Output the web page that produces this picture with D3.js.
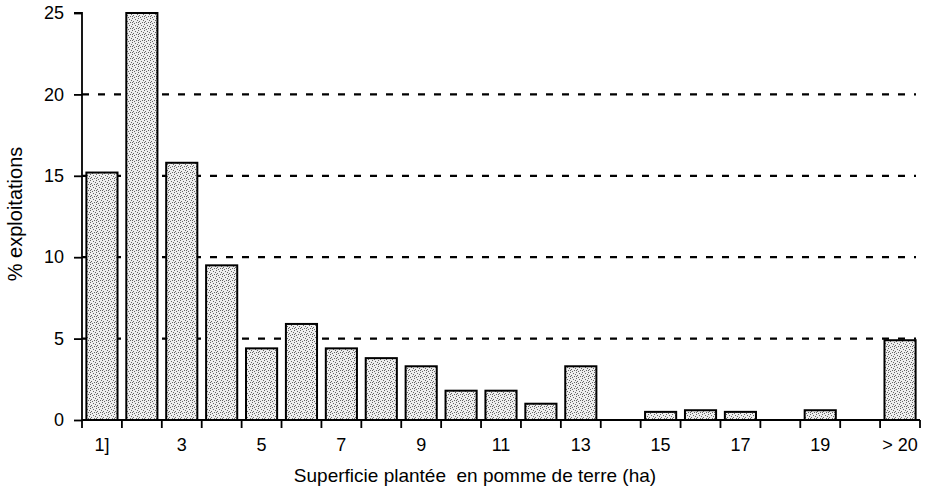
<!DOCTYPE html>
<html><head><meta charset="utf-8">
<script src="https://cdn.jsdelivr.net/npm/d3@7/dist/d3.min.js"></script>
<style>body{margin:0;background:#fff}svg{display:block}text{font-family:"Liberation Sans",Arial,sans-serif;fill:#000}</style>
</head><body><svg id="c" width="934" height="488"></svg>
<script>
const categories = ["1]","2","3","4","5","6","7","8","9","10","11","12","13","14","15","16","17","18","19","20",">20"];
const values = [15.2, 25, 15.8, 9.5, 4.4, 5.9, 4.4, 3.8, 3.3, 1.8, 1.8, 1.0, 3.3, 0, 0.5, 0.6, 0.5, 0, 0.6, 0, 4.9];
const xTickLabels = ["1]","3","5","7","9","11","13","15","17","19",">20"];
const xTickDisplay = {">20":"> 20"};
const yTicks = [0,5,10,15,20,25];
const gridValues = [5,10,15,20];
const xTitle = "Superficie plantée  en pomme de terre (ha)";
const yTitle = "% exploitations";

const svg = d3.select("#c");
const defs = svg.append("defs");
const pat = defs.append("pattern").attr("id","stip").attr("patternUnits","userSpaceOnUse").attr("width",6).attr("height",6);
pat.append("rect").attr("width",6).attr("height",6).attr("fill","#eeeeee");
[[0,0],[3,1],[1,3],[4,4],[2,5],[5,2],[0,4]].forEach(p=>pat.append("rect").attr("x",p[0]).attr("y",p[1]).attr("width",1).attr("height",1).attr("fill","#666"));

const x = d3.scaleBand().domain(categories).range([82,920]).paddingInner(0.22).paddingOuter(0.11);
const y = d3.scaleLinear().domain([0,25]).range([420,13]);

// gridlines
svg.append("g").selectAll("line").data(gridValues).join("line")
  .attr("x1",82).attr("x2",916).attr("y1",d=>y(d)).attr("y2",d=>y(d))
  .attr("stroke","#000").attr("stroke-width",2.2).attr("stroke-dasharray","7,9");

// bars
svg.append("g").selectAll("rect").data(categories).join("rect")
  .attr("x",d=>x(d)).attr("width",x.bandwidth())
  .attr("y",(d,i)=>y(values[i])).attr("height",(d,i)=>y(0)-y(values[i]))
  .attr("fill","url(#stip)").attr("stroke","#000").attr("stroke-width",2);

// y axis
const yAxis = d3.axisLeft(y).tickValues(yTicks).tickSize(8).tickPadding(10).tickFormat(d3.format("d"));
const ga = svg.append("g").attr("transform","translate(82,0)").call(yAxis);
ga.select(".domain").attr("stroke","#000").attr("stroke-width",1.8).attr("d","M-8,"+y(25)+"H0V"+y(0));
ga.selectAll(".tick line").attr("stroke","#000").attr("stroke-width",1.8);
ga.selectAll("text").style("font-size","18px").style("font-family","'Liberation Sans',Arial,sans-serif").attr("fill","#000");

// x axis line + boundary ticks
const boundaries = categories.map(c=>x(c)-x.step()*x.paddingOuter()).concat([920]);
svg.append("line").attr("x1",82).attr("x2",920).attr("y1",y(0)).attr("y2",y(0)).attr("stroke","#000").attr("stroke-width",1.8);
svg.append("g").selectAll("line").data(boundaries).join("line")
  .attr("x1",d=>d).attr("x2",d=>d).attr("y1",y(0)).attr("y2",y(0)+8)
  .attr("stroke","#000").attr("stroke-width",1.8);

// x tick labels
svg.append("g").selectAll("text").data(xTickLabels).join("text")
  .attr("x",d=>x(d)+x.bandwidth()/2).attr("y",451)
  .attr("text-anchor","middle").style("font-size","18px")
  .text(d=>xTickDisplay[d]||d);

svg.append("text").attr("x",475).attr("y",482).attr("text-anchor","middle").style("font-size","19px").style("white-space","pre").text(xTitle);
svg.append("text").attr("transform","translate(22,214) rotate(-90)").attr("text-anchor","middle").style("font-size","20px").text(yTitle);
</script></body></html>
